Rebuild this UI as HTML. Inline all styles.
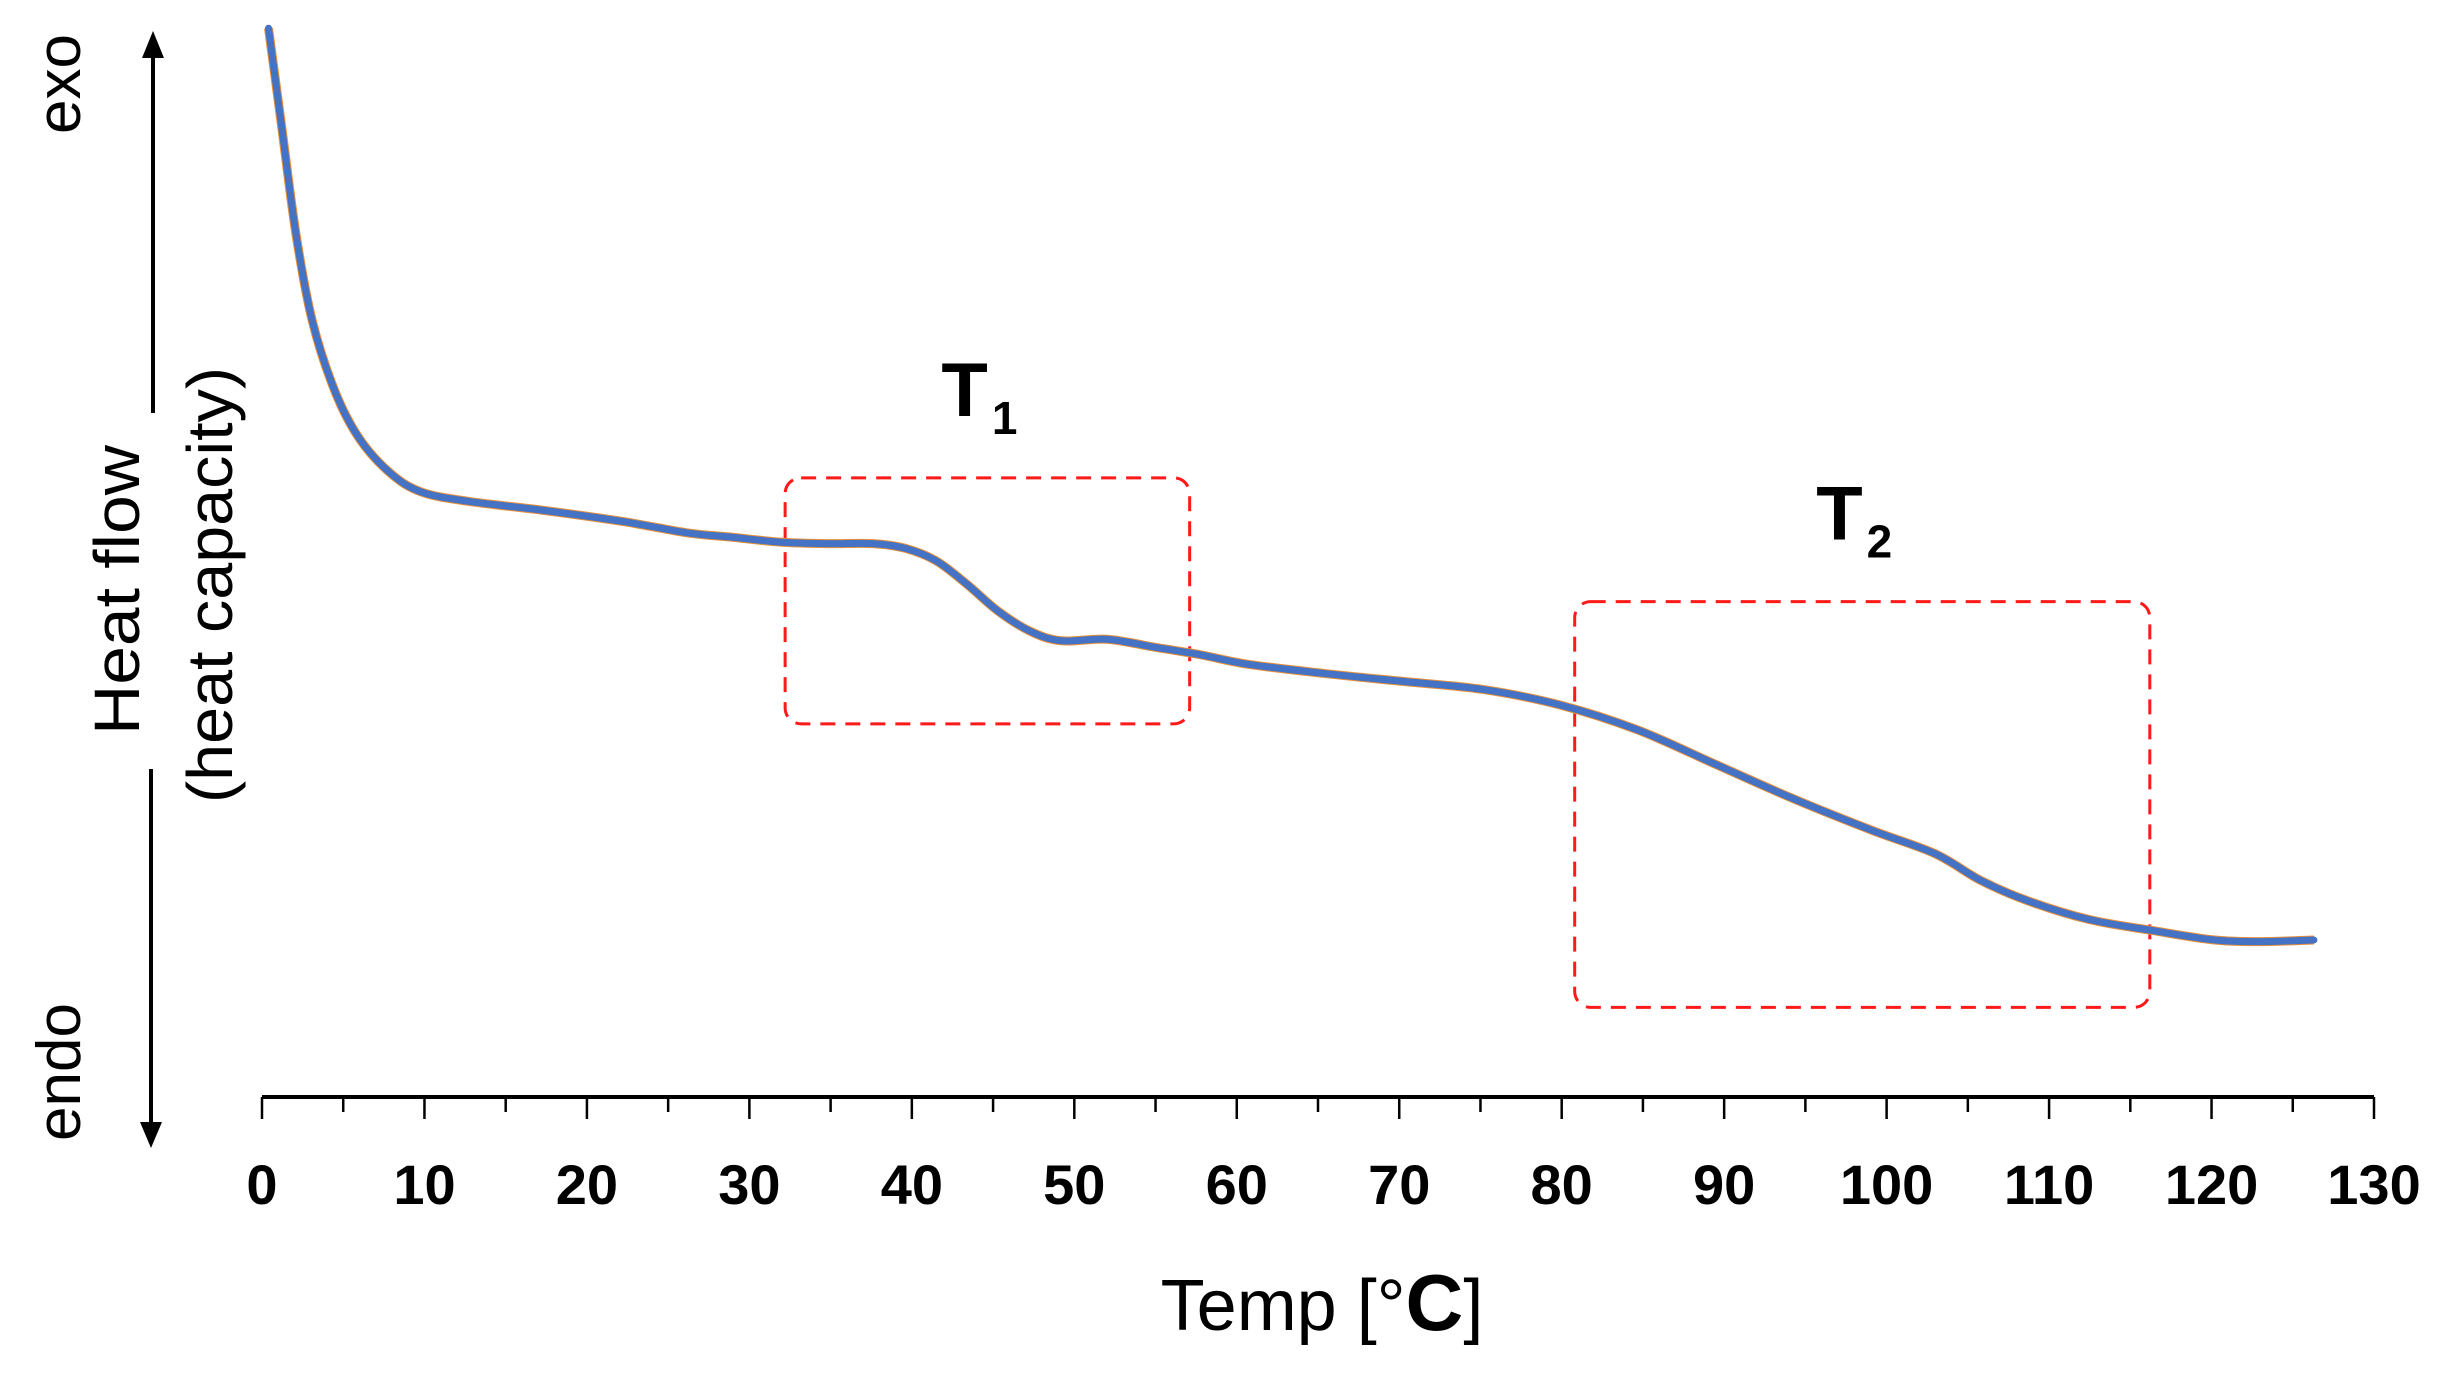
<!DOCTYPE html>
<html><head><meta charset="utf-8"><style>
html,body{margin:0;padding:0;background:#fff;}
svg{display:block;}
text{font-family:"Liberation Sans",sans-serif;}
</style></head><body>
<svg id="chart" width="2444" height="1375" viewBox="0 0 2444 1375" xmlns="http://www.w3.org/2000/svg">
<g id="axis"></g>
<g id="marks"></g>
<g>
  <line x1="153" y1="413" x2="153" y2="50" stroke="#000" stroke-width="4"/>
  <polygon points="142,58 164,58 153,31" fill="#000"/>
  <line x1="151" y1="769" x2="151" y2="1130" stroke="#000" stroke-width="4"/>
  <polygon points="140,1122 162,1122 151,1148" fill="#000"/>
  <text transform="translate(80,84) rotate(-90)" text-anchor="middle" font-size="62">exo</text>
  <text transform="translate(80,1072) rotate(-90)" text-anchor="middle" font-size="62">endo</text>
  <text transform="translate(139,590) rotate(-90)" text-anchor="middle" font-size="64" textLength="290" lengthAdjust="spacingAndGlyphs">Heat flow</text>
  <text transform="translate(232,585) rotate(-90)" text-anchor="middle" font-size="64" textLength="436" lengthAdjust="spacingAndGlyphs">(heat capacity)</text>
</g>
<text x="1322" y="1330" text-anchor="middle" font-size="72">Temp [°<tspan font-weight="bold" font-size="80">C</tspan>]</text>
</svg>
<script>
const temps = [0.4,1.2,2.1,3.1,4.5,6.0,7.9,9.8,12.7,17.5,22.3,26.1,29.0,31.9,34.8,37.6,39.6,41.5,43.4,45.3,47.3,49.2,52.0,54.9,57.8,60.7,65.5,70.3,75.1,79.9,84.7,89.5,94.3,99.1,103.0,105.8,108.7,112.5,116.4,120.2,123.1,126.3];
const flow = [68.5,62.3,55.3,49.8,45.3,42.3,40.1,38.9,38.3,37.7,37.0,36.3,36.0,35.7,35.6,35.6,35.3,34.5,33.0,31.3,30.0,29.4,29.5,29.0,28.5,27.9,27.3,26.8,26.3,25.3,23.7,21.5,19.3,17.3,15.8,14.1,12.8,11.6,10.9,10.3,10.2,10.3];
const tickValues = [0,10,20,30,40,50,60,70,80,90,100,110,120,130];
const regionStarts = [32.2, 80.8];
const regionEnds = [57.1, 116.2];
const regionTop = [39.8, 31.9];
const regionBottom = [24.1, 6.0];
const regionLabels = ["1","2"];

const NS="http://www.w3.org/2000/svg";
const x0=262, x1=2374, axisY=1097;
function xs(t){return x0+(t-0)/(130-0)*(x1-x0);}
function ys(v){return (703-v*10)*1.5667;}
function mk(tag,attrs,parent){const e=document.createElementNS(NS,tag);for(const k in attrs)e.setAttribute(k,attrs[k]);parent.appendChild(e);return e;}
const axis=document.getElementById('axis'), marks=document.getElementById('marks');
const axl=mk('line',{x1:x0,y1:axisY,x2:x1,y2:axisY,stroke:'#000','stroke-width':4},axis);


for(let t=0;t<=130;t+=5){
  const major=t%10===0;
  const tk=mk('line',{x1:xs(t),y1:axisY,x2:xs(t),y2:axisY+(major?22:15),stroke:'#000','stroke-width':2.5},axis);
  
  
}
tickValues.forEach(t=>{
  const tx=mk('text',{x:xs(t),y:1204,'text-anchor':'middle','font-size':56,'font-weight':'bold'},axis);
  
  
  tx.textContent=t;
});
regionStarts.forEach((s,i)=>{
  const r=mk('rect',{x:xs(s),y:ys(regionTop[i]),width:xs(regionEnds[i])-xs(s),height:ys(regionBottom[i])-ys(regionTop[i]),rx:16,fill:'none',stroke:'#ff1a1a','stroke-width':3,'stroke-dasharray':'15 10'},marks);
  
  
  const cx=(xs(s)+xs(regionEnds[i]))/2;
  const lb=mk('text',{x:cx-8,y:ys(regionTop[i])-62,'text-anchor':'middle','font-size':76,'font-weight':'bold'},marks);
  
  
  lb.textContent='T';
  const sb=mk('tspan',{'font-size':46,dy:18,dx:4},lb);
  sb.textContent=regionLabels[i];
});
let d='';
temps.forEach((t,i)=>{
  const px=xs(t),py=ys(flow[i]);
  if(i===0){d='M'+px+','+py;}
  else{
    const p0=[xs(temps[Math.max(i-2,0)]),ys(flow[Math.max(i-2,0)])];
    const p1=[xs(temps[i-1]),ys(flow[i-1])];
    const p2=[px,py];
    const j=Math.min(i+1,temps.length-1);
    const p3=[xs(temps[j]),ys(flow[j])];
    const c1=[p1[0]+(p2[0]-p0[0])/6,p1[1]+(p2[1]-p0[1])/6];
    const c2=[p2[0]-(p3[0]-p1[0])/6,p2[1]-(p3[1]-p1[1])/6];
    d+=' C'+c1+' '+c2+' '+p2;
  }
});
const under=mk('path',{d:d,fill:'none',stroke:'#e6903a','stroke-width':9,'stroke-linejoin':'round'},marks);


const cv=mk('path',{d:d,fill:'none',stroke:'#4472c4','stroke-width':7,'stroke-linejoin':'round','stroke-linecap':'round'},marks);


</script>
</body></html>
